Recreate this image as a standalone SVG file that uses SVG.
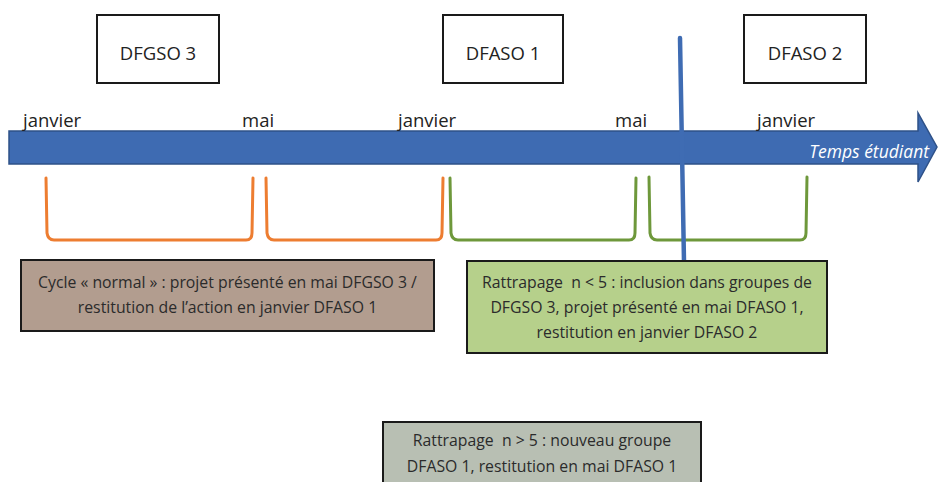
<svg xmlns="http://www.w3.org/2000/svg" width="939" height="482" viewBox="0 0 939 482">
<style>
.lbl{font-family:"Open Sans","Liberation Sans",sans-serif;font-size:18.5px;fill:#222}
.ttl{font-family:"Open Sans","Liberation Sans",sans-serif;font-size:18.5px;fill:#222;text-anchor:middle}
.box{stroke:#1a1a1a;stroke-width:2}
.txt{font-family:"Open Sans","Liberation Sans",sans-serif;font-size:15.8px;fill:#2b2b2b;text-anchor:middle;white-space:pre}
.br{fill:none;stroke-width:3;stroke-linejoin:round;stroke-linecap:round}
.or{stroke:#ED7D31}
.gr{stroke:#6E983B}
</style>
<rect width="939" height="482" fill="#ffffff"/>
<g id="timeline">
<polygon points="9,131 918,131 918,113 937,147 918,182 918,164 9,164" fill="#3E6BB2" stroke="#2E5188" stroke-width="1.5"/>
<text x="929" y="158" font-family="Open Sans, Liberation Sans, sans-serif" font-size="17.5" font-style="italic" fill="#ffffff" text-anchor="end">Temps étudiant</text>
</g>
<g id="months">
<text class="lbl" x="23" y="127">janvier</text>
<text class="lbl" x="242" y="127">mai</text>
<text class="lbl" x="398" y="127">janvier</text>
<text class="lbl" x="615" y="127">mai</text>
<text class="lbl" x="757" y="127">janvier</text>
</g>
<g id="dfgso3">
<rect class="box" x="97" y="15" width="122" height="68" fill="#ffffff"/>
<text class="ttl" x="158" y="60">DFGSO 3</text>
</g>
<g id="dfaso1">
<rect class="box" x="443" y="15" width="120" height="68" fill="#ffffff"/>
<text class="ttl" x="503" y="60">DFASO 1</text>
</g>
<g id="dfaso2">
<rect class="box" x="744" y="15" width="122" height="68" fill="#ffffff"/>
<text class="ttl" x="805" y="60">DFASO 2</text>
</g>
<g id="connectors">
<path class="br or" d="M46,178 L47,233 Q48,240 54,240 L246,240 Q252,240 252,233 L253,178"/>
<path class="br or" d="M266,178 L267,233 Q268,240 274,240 L436,240 Q442,240 442,233 L443,178"/>
<path class="br gr" d="M450,178 L451,233 Q452,240 458,240 L629,240 Q635,240 635,233 L636,178"/>
<path class="br gr" d="M649,177 L650,233 Q651,240 657,240 L800,240 Q806,240 806,233 L807,177"/>
<line x1="680" y1="38" x2="684" y2="262" stroke="#3F6CB3" stroke-width="4.5" stroke-linecap="round"/>
</g>
<g id="normal">
<rect class="box" x="21" y="260" width="413" height="71" fill="#B29D8F"/>
<text class="txt" x="227.5" y="288">Cycle « normal » : projet présenté en mai DFGSO 3 /</text>
<text class="txt" x="227.5" y="313">restitution de l’action en janvier DFASO 1</text>
</g>
<g id="rattrapage-lt5">
<rect class="box" x="467" y="261" width="360" height="92" fill="#B6D08B"/>
<text class="txt" x="647" y="288" xml:space="preserve">Rattrapage  n &lt; 5 : inclusion dans groupes de</text>
<text class="txt" x="647" y="313">DFGSO 3, projet présenté en mai DFASO 1,</text>
<text class="txt" x="647" y="338">restitution en janvier DFASO 2</text>
</g>
<g id="rattrapage-gt5">
<rect class="box" x="383" y="422" width="318" height="70" fill="#B8BFB3"/>
<text class="txt" x="542" y="446" xml:space="preserve">Rattrapage  n &gt; 5 : nouveau groupe</text>
<text class="txt" x="542" y="472">DFASO 1, restitution en mai DFASO 1</text>
</g>
</svg>
